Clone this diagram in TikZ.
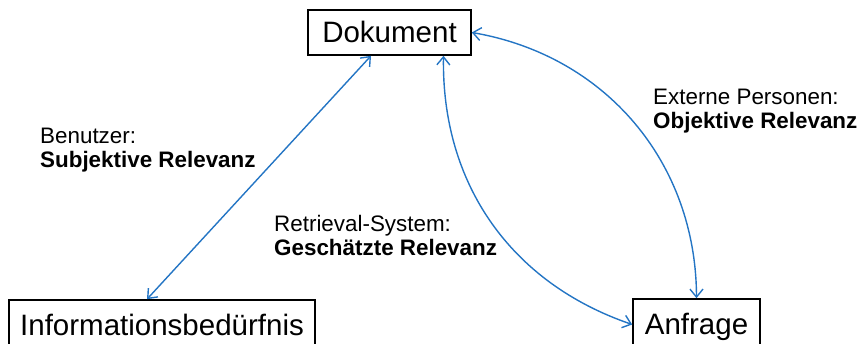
\documentclass[tikz,border=0pt]{standalone}
\usepackage{fontspec}
\setmainfont{Liberation Sans}
\usetikzlibrary{arrows.meta}
\definecolor{linkblue}{RGB}{36,117,196}

\begin{document}
\begin{tikzpicture}[
    x=1pt, y=1pt,
    ent/.style={draw, line width=1.6pt, inner sep=0pt, font=\fontsize{29.5}{33}\selectfont, text height=21pt, text depth=0pt},
    arr/.style={{Straight Barb[length=8pt,width=13pt]}-{Straight Barb[length=8pt,width=13pt]}, draw=linkblue, line width=1.4pt},
    lbl/.style={anchor=north west, inner sep=0pt, align=left, font=\fontsize{22.4}{24}\selectfont}
]
\useasboundingbox (0,0) rectangle (862,-344);
\node[ent, minimum width=163pt, minimum height=45pt] (dok) at (389.5,-32.5) {Dokument};
\node[ent, minimum width=306pt, minimum height=50pt] (info) at (162,-325) {Informationsbedürfnis};
\node[ent, minimum width=127pt, minimum height=51pt] (anf) at (696.5,-324.5) {Anfrage};

\node[lbl] (nutzer) at (40,-128) {Benutzer:\\\textbf{Subjektive Relevanz}};
\node[lbl] (system) at (274,-215) {Retrieval-System:\\\textbf{Geschätzte Relevanz}};
\node[lbl] (extern) at (653,-89) {Externe Personen:\\\textbf{Objektive Relevanz}};

\draw[arr] ([xshift=-15pt]info.north) -- ([xshift=-18.5pt]dok.south);
\draw[arr] (dok.east) to[bend left=40] (anf.north);
\draw[arr] ([xshift=54pt]dok.south) to[bend right=36] (anf.west);
\end{tikzpicture}
\end{document}
